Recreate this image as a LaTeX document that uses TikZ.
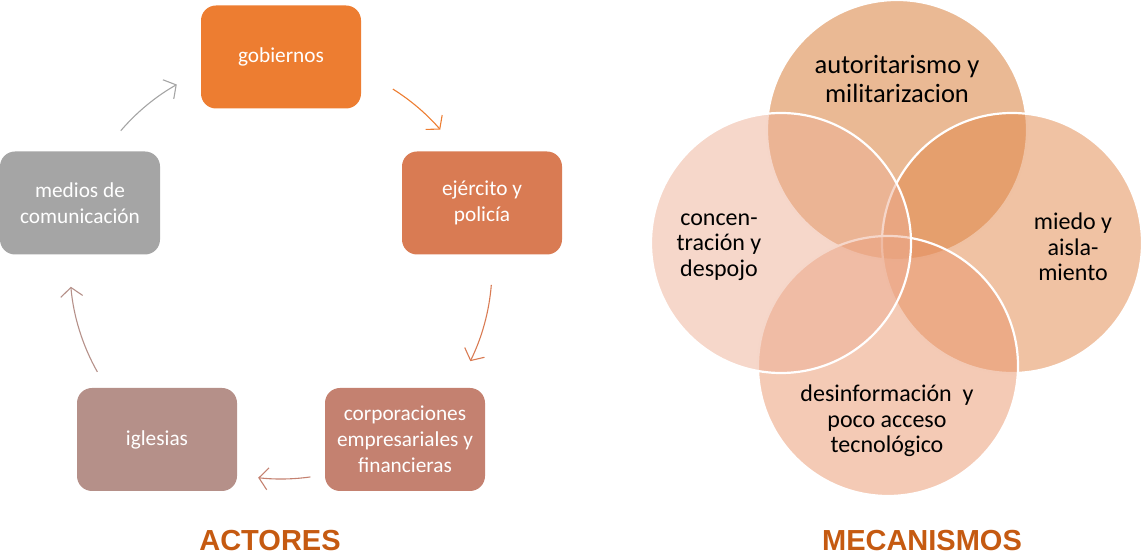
\documentclass[tikz,border=0pt]{standalone}
\usepackage{fontspec}
\setmainfont{Carlito}
\newfontfamily\titlefont{Liberation Sans}
\usetikzlibrary{arrows.meta}
\definecolor{cGob}{HTML}{ED7D31}
\definecolor{cEj}{HTML}{D97B53}
\definecolor{cCorp}{HTML}{C48170}
\definecolor{cIgl}{HTML}{B59089}
\definecolor{cMed}{HTML}{A5A5A5}
\definecolor{cTitle}{HTML}{C55A11}
\definecolor{vTop}{HTML}{D57329}
\definecolor{vLeft}{HTML}{EDAF95}
\definecolor{vRight}{HTML}{E18547}
\definecolor{vBot}{HTML}{E9956B}
\begin{document}
\begin{tikzpicture}[x=1pt,y=1pt,
  actor/.style={rounded corners=15pt, minimum width=160pt, minimum height=103pt,
    inner sep=0pt, text=white, align=center, font=\fontsize{21.3}{26}\selectfont},
  cycarrow/.style={line width=1.1pt, -{Straight Barb[length=9pt,width=22pt]}},
  venn/.style={fill opacity=0.5, draw=white, line width=2.2pt},
  venntext/.style={align=center, text=black, font=\fontsize{24}{25.5}\selectfont},
  title/.style={anchor=base, text=cTitle, font=\titlefont\bfseries\fontsize{29}{34}\selectfont}]
\useasboundingbox (0,0) rectangle (1142,556);
% actors
\node[actor, fill=cGob]  (gob)  at (281,499)   {gobiernos};
\node[actor, fill=cEj]   (ej)   at (482,353)   {ejército y\\policía};
\node[actor, fill=cCorp] (corp) at (405,116.5) {corporaciones\\empresariales y\\financieras};
\node[actor, fill=cIgl]  (igl)  at (157,116.5) {iglesias};
\node[actor, fill=cMed]  (med)  at (80,353)    {medios de\\comunicación};
\coordinate (cyc) at (281,288);
\draw[cycarrow, draw=cMed]  ([shift={(139.4:211)}]cyc) arc[start angle=139.4, end angle=119.6, radius=211];
\draw[cycarrow, draw=cGob]  ([shift={(58:211)}]cyc)    arc[start angle=58,    end angle=41,    radius=211];
\draw[cycarrow, draw=cEj]   ([shift={(-4.6:211)}]cyc)  arc[start angle=-4.6,  end angle=-26.2, radius=211];
\draw[cycarrow, draw=cCorp] ([shift={(-82:211)}]cyc)   arc[start angle=-82,   end angle=-96.2, radius=211];
\draw[cycarrow, draw=cIgl]  ([shift={(209.5:211)}]cyc) arc[start angle=209.5, end angle=185.1, radius=211];
\node[title] (tact) at (270,5) {ACTORES};
% mechanisms
\coordinate (ct) at (897,426);
\coordinate (cr) at (1012,313);
\coordinate (cb) at (888,190);
\coordinate (cl) at (781,313);
\path[venn, fill=vTop]   (ct) circle[radius=130];
\path[venn, fill=vRight] (cr) circle[radius=130];
\path[venn, fill=vBot]   (cb) circle[radius=130];
\path[venn, fill=vLeft]  (cl) circle[radius=130];
\node[venntext, font=\fontsize{26.5}{29}\selectfont] (mtop) at (897,477) {autoritarismo y\\militarizacion};
\node[venntext] (mleft)  at (719,309) {concen-\\tración y\\despojo};
\node[venntext] (mright) at (1073,309) {miedo y\\aisla-\\miento};
\node[venntext] (mbot)   at (887,135) {desinformación\ \ y\\poco acceso\\tecnológico};
\node[title] (tmec) at (922,5) {MECANISMOS};
\end{tikzpicture}
\end{document}
